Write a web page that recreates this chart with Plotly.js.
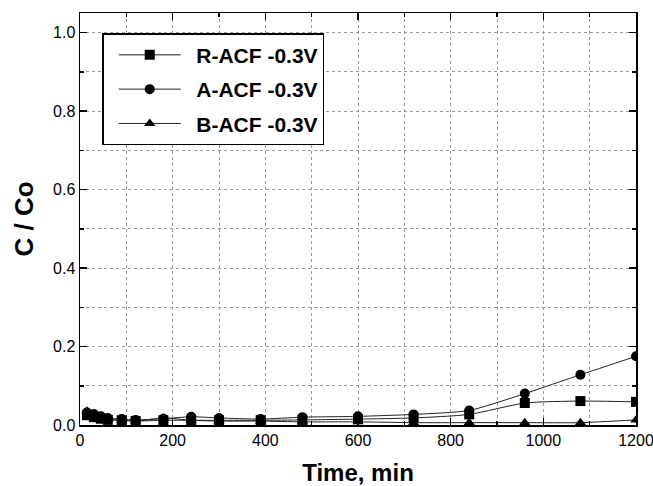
<!DOCTYPE html>
<html><head><meta charset="utf-8">
<script src="https://cdn.plot.ly/plotly-3.0.1.min.js"></script>
<style>body{margin:0;background:#fff}#c{width:653px;height:486px}</style>
</head><body><div id="c"></div>
<script>
const time = [15, 30, 45, 60, 90, 120, 180, 240, 300, 390, 480, 600, 720, 840, 960, 1080, 1200];
const rAcf = [0.025, 0.02, 0.016, 0.013, 0.012, 0.01, 0.012, 0.012, 0.012, 0.012, 0.013, 0.015, 0.018, 0.027, 0.056, 0.061, 0.059];
const aAcf = [0.032, 0.028, 0.022, 0.018, 0.015, 0.013, 0.016, 0.021, 0.018, 0.015, 0.02, 0.022, 0.027, 0.037, 0.08, 0.128, 0.175];
const bAcf = [0.035, 0.026, 0.02, 0.015, 0.012, 0.01, 0.018, 0.012, 0.01, 0.01, 0.008, 0.008, 0.006, 0.006, 0.006, 0.006, 0.013];
const names = ['R-ACF -0.3V', 'A-ACF -0.3V', 'B-ACF -0.3V'];
const symbols = ['square', 'circle', 'triangle-up'];
const series = [rAcf, aAcf, bAcf];

const traces = series.map((ys, i) => ({
  x: time, y: ys, name: '\u2002' + names[i], legendgroup: 'g' + i,
  type: 'scatter', mode: 'lines+markers',
  line: {color: '#222', width: 1, shape: 'spline', smoothing: 0.6},
  marker: {symbol: symbols[i], size: 10, color: '#000'}
}));

const FONT = 'Liberation Sans, Arial, sans-serif';
const axisCommon = {
  showline: true, linecolor: '#000', linewidth: 1.5, mirror: 'ticks',
  ticks: 'inside', ticklen: 7, tickwidth: 1.5, tickcolor: '#000',
  showgrid: true, gridcolor: '#999', griddash: 'dot', gridwidth: 1,
  zeroline: false, ticklabeloverflow: 'allow',
  tickfont: {family: FONT, size: 16, color: '#000'}
};

const layout = {
  width: 653, height: 486,
  margin: {l: 80, r: 17, t: 13, b: 61},
  paper_bgcolor: '#fff', plot_bgcolor: '#fff',
  showlegend: true,
  legend: {
    x: 0.04, y: 0.951, xanchor: 'left', yanchor: 'top',
    bgcolor: '#fff', bordercolor: '#000', borderwidth: 1.5,
    itemwidth: 62, indentation: 10, tracegroupgap: 4,
    font: {family: FONT, size: 21, color: '#000', weight: 'bold'}
  },
  xaxis: Object.assign({}, axisCommon, {
    range: [0, 1200], dtick: 200, tick0: 0,
    minor: {dtick: 100, ticks: 'inside', ticklen: 4, tickcolor: '#000', showgrid: true, gridcolor: '#999', griddash: 'dot'},
    title: {text: 'Time, min', standoff: 17, font: {family: FONT, size: 24, color: '#000', weight: 'bold'}}
  }),
  yaxis: Object.assign({}, axisCommon, {
    range: [0, 1.05], dtick: 0.2, tick0: 0, tickformat: '.1f',
    minor: {dtick: 0.1, ticks: 'inside', ticklen: 4, tickcolor: '#000', showgrid: true, gridcolor: '#999', griddash: 'dot'},
    title: {text: 'C / Co', standoff: 12, font: {family: FONT, size: 26, color: '#000', weight: 'bold'}}
  })
};

Plotly.newPlot('c', traces, layout, {displayModeBar: false, staticPlot: true});
</script>
</body></html>
